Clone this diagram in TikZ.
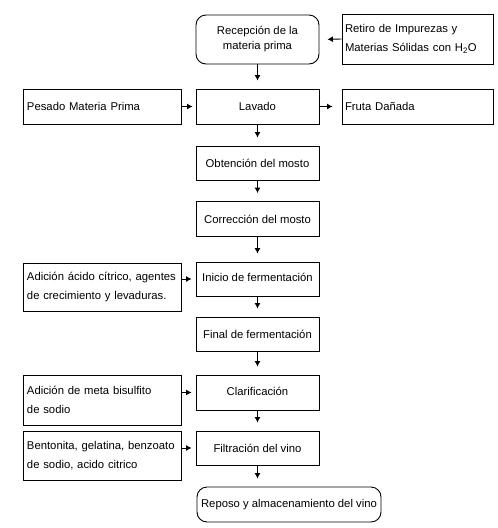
\documentclass[tikz,border=0pt]{standalone}
\usepackage{fontspec}
\setmainfont{Liberation Sans}
\usetikzlibrary{arrows.meta}
\begin{document}
\begin{tikzpicture}[x=1pt,y=-1pt,
  caja/.style={draw,line width=0.9pt,inner sep=0pt,minimum width=123pt,align=center,
    font=\fontsize{11.3}{19}\selectfont},
  lado/.style={caja,text width=150pt,inner xsep=4pt,align=left},
  flecha/.style={-{Latex[length=5.5pt,width=6pt]},line width=0.9pt}]
\useasboundingbox (0,0) rectangle (498,528);
% main column
\node[caja,rounded corners=10pt,minimum height=49pt,font=\fontsize{11.3}{15}\selectfont] (recep) at (257.5,39.5) {Recepción de la\\materia prima};
\node[caja,minimum height=35pt] (lavado) at (257.5,106.5) {Lavado};
\node[caja,minimum height=34pt] (obt) at (257.5,163) {Obtención del mosto};
\node[caja,minimum height=35pt] (correc) at (257.5,219) {Corrección del mosto};
\node[caja,minimum height=34pt,text depth=4pt] (inicio) at (257.5,279) {Inicio de fermentación};
\node[caja,minimum height=34pt] (final) at (257.5,334) {Final de fermentación};
\node[caja,minimum height=35pt,text depth=3pt] (clar) at (257.5,392.5) {Clarificación};
\node[caja,minimum height=34pt] (filt) at (257.5,448) {Filtración del vino};
\node[caja,rounded corners=10pt,minimum width=184pt,minimum height=35pt] (reposo) at (289,504.5) {Reposo y almacenamiento del vino};
% side boxes
\node[lado,text width=145pt,inner xsep=3pt,minimum height=50pt] (retiro) at (417.5,39) {Retiro de Impurezas y\\Materias Sólidas con H\textsubscript{2}O};
\node[lado,text width=145pt,inner xsep=3pt,minimum height=35pt] (fruta) at (417.5,106.5) {Fruta Dañada};
\node[lado,minimum height=35pt] (pesado) at (102,106.5) {Pesado Materia Prima};
\node[lado,minimum height=48pt] (adic1) at (102,287) {Adición ácido cítrico, agentes\\de crecimiento y levaduras.};
\node[lado,minimum height=50pt] (adic2) at (102,400) {Adición de meta bisulfito\\de sodio};
\node[lado,minimum height=49pt] (bento) at (102,455.5) {Bentonita, gelatina, benzoato\\de sodio, acido citrico};
% arrows down the column
\foreach \a/\b in {recep/lavado,lavado/obt,obt/correc,correc/inicio,inicio/final,final/clar,clar/filt}
\draw[flecha,shorten >=8pt] (\a.south) -- (\b.north);
\draw[flecha,shorten >=8pt] (filt.south) -- (filt.south |- reposo.north);
% arrows from the sides
\draw[flecha,shorten >=8pt] (retiro.west) -- (recep.east);
\draw[flecha,shorten >=9pt] (lavado.east) -- (fruta.west);
\draw[flecha,shorten >=3pt] (pesado.east) -- (lavado.west);
\foreach \s/\t in {adic1/inicio,adic2/clar,bento/filt}
\draw[flecha,shorten >=4pt] (\t.west -| \s.east) -- (\t.west);
\end{tikzpicture}
\end{document}
